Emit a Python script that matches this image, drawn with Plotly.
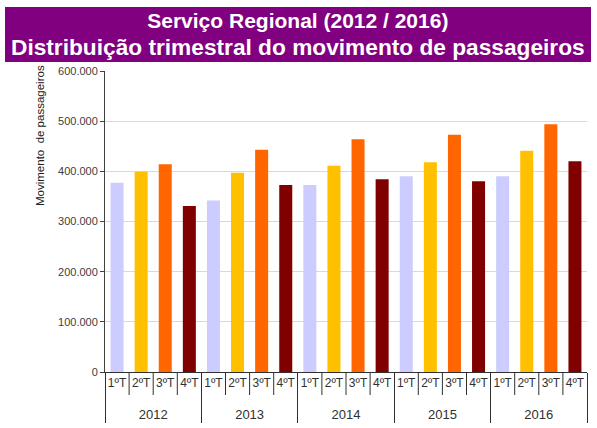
import plotly.graph_objects as go

# Quarterly passenger movement, regional service 2012-2016
years = ["2012", "2013", "2014", "2015", "2016"]
quarters = ["1ºT", "2ºT", "3ºT", "4ºT"]
passengers = {
    "2012": [377000, 399000, 414000, 331000],
    "2013": [342000, 397000, 443000, 373000],
    "2014": [373000, 411000, 464000, 384000],
    "2015": [390000, 418000, 473000, 380000],
    "2016": [390000, 441000, 494000, 420000],
}
quarter_colors = ["#ccccff", "#ffc000", "#ff6600", "#800000"]
y_ticks = [0, 100000, 200000, 300000, 400000, 500000, 600000]

x_year, x_quarter, y_vals, colors = [], [], [], []
for yr in years:
    for i, q in enumerate(quarters):
        # leading break pushes the year row further below the quarter row
        x_year.append("<br><span style='font-size:13px'>" + yr + "</span>")
        x_quarter.append(q)
        y_vals.append(passengers[yr][i])
        colors.append(quarter_colors[i])

fig = go.Figure(
    go.Bar(
        x=[x_year, x_quarter],
        y=y_vals,
        marker=dict(color=colors, line=dict(width=0)),
        width=0.54,
        hovertemplate="%{y:,.0f}<extra></extra>",
    )
)

FONT = "Liberation Sans, Arial, sans-serif"
L, R, T, B = 105, 10, 71, 56
W, H = 597, 428
pw, ph = W - L - R, H - T - B


def px_x(p):
    return (p - L) / pw


def px_y(p):
    return (H - B - p) / ph


fig.update_layout(
    width=W,
    height=H,
    margin=dict(l=L, r=R, t=T, b=B, pad=0),
    paper_bgcolor="white",
    plot_bgcolor="white",
    separators=",.",
    showlegend=False,
    font=dict(family=FONT, color="#404040"),
)

fig.update_yaxes(
    range=[0, 600000],
    tickvals=y_ticks,
    tickformat=",.0f",
    showgrid=True,
    gridcolor="#d9d9d9",
    gridwidth=1,
    showline=True,
    linecolor="#404040",
    linewidth=1,
    ticks="outside",
    ticklen=4,
    tickcolor="#404040",
    tickfont=dict(size=11, color="#404040"),
    zeroline=False,
    automargin=False,
)

fig.update_xaxes(
    type="multicategory",
    showline=True,
    linecolor="#303030",
    linewidth=1,
    ticks="",
    tickangle=0,
    showdividers=True,
    dividercolor="#303030",
    dividerwidth=1,
    tickfont=dict(size=12, color="#303030"),
    showgrid=False,
    automargin=False,
)

# short separators between the quarter labels
n_bars = len(years) * len(quarters)
for k in range(n_bars - 1):
    if (k + 1) % len(quarters) == 0:
        continue
    fig.add_shape(
        type="line",
        xref="x",
        yref="paper",
        x0=k + 0.5,
        x1=k + 0.5,
        y0=0,
        y1=-23 / ph,
        line=dict(color="#303030", width=1),
    )

# title banner
fig.add_shape(
    type="rect",
    xref="paper",
    yref="paper",
    x0=px_x(5),
    x1=px_x(591),
    y0=px_y(62),
    y1=px_y(7),
    fillcolor="#800080",
    line=dict(width=0),
    layer="above",
)
fig.add_annotation(
    xref="paper",
    yref="paper",
    x=px_x(298),
    y=px_y(34.5),
    text=(
        "<b><span style='font-size:21px'>Serviço Regional (2012 / 2016)</span></b><br>"
        "<b><span style='font-size:22.7px'>Distribuição trimestral do movimento de passageiros</span></b>"
    ),
    showarrow=False,
    font=dict(family=FONT, size=21, color="white"),
    align="center",
    xanchor="center",
    yanchor="middle",
)

# y-axis title
fig.add_annotation(
    xref="paper",
    yref="paper",
    x=px_x(40),
    y=px_y(136),
    text="Movimento  de passageiros",
    textangle=-90,
    showarrow=False,
    font=dict(family=FONT, size=11.5, color="#202020"),
    xanchor="center",
    yanchor="middle",
)

fig.write_html("out.html")
